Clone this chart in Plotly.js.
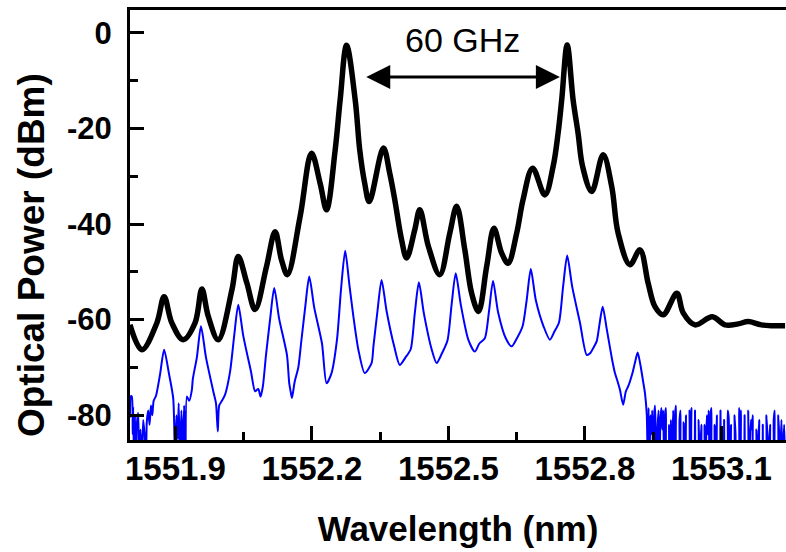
<!DOCTYPE html>
<html>
<head>
<meta charset="utf-8">
<script src="https://cdn.plot.ly/plotly-3.0.1.min.js"></script>
<style>html,body{margin:0;padding:0;background:#fff;}#chart{width:786px;height:552px;}</style>
</head>
<body>
<div id="chart"></div>
<script>
// Black trace: optical spectrum (wavelength nm, power dBm)
const blackWl = [1551.800,1551.826,1551.859,1551.875,1551.892,1551.917,1551.943,1551.958,1551.972,1551.994,
  1552.024,1552.038,1552.057,1552.075,1552.100,1552.119,1552.133,1552.146,1552.174,1552.199,
  1552.218,1552.232,1552.251,1552.262,1552.276,1552.295,1552.305,1552.316,1552.326,1552.357,
  1552.371,1552.382,1552.397,1552.408,1552.426,1552.437,1552.456,1552.481,1552.503,1552.518,
  1552.536,1552.551,1552.566,1552.584,1552.600,1552.617,1552.631,1552.650,1552.664,1552.685,
  1552.712,1552.730,1552.741,1552.749,1552.761,1552.774,1552.785,1552.795,1552.815,1552.840,
  1552.859,1552.873,1552.899,1552.921,1552.939,1552.954,1552.972,1553.002,1553.016,1553.042,
  1553.080,1553.108,1553.137,1553.159,1553.188,1553.240];
const blackDbm = [-61.1,-66.3,-60.7,-55.2,-60.7,-64.2,-60.7,-53.6,-59.3,-64.2,
  -53.8,-46.8,-52.4,-57.9,-48.9,-41.6,-47.5,-50.6,-38.4,-25.2,
  -31.5,-37.0,-24.5,-14.0,-2.6,-14.0,-24.5,-31.5,-35.3,-24.1,
  -29.4,-34.9,-43.3,-47.1,-41.2,-37.0,-44.7,-50.6,-41.9,-36.3,
  -45.4,-54.5,-58.3,-48.9,-40.9,-46.1,-48.2,-41.9,-34.9,-28.3,
  -33.9,-28.0,-21.0,-14.0,-2.5,-14.0,-21.0,-28.0,-33.2,-25.5,
  -32.2,-41.9,-48.5,-45.4,-52.4,-57.3,-59.0,-54.5,-58.6,-61.1,
  -59.4,-61.1,-60.9,-60.4,-61.1,-61.3];

// Blue trace, part 1: noisy floor at short wavelengths
const blueLeftWl = [1551.800,1551.802,1551.804,1551.806,1551.807,1551.809,1551.811,1551.813,1551.815,1551.818,
  1551.820,1551.823,1551.826,1551.829,1551.832,1551.835,1551.837,1551.840,1551.843,1551.846,
  1551.849,1551.852];
const blueLeftDbm = [-80.5,-76.0,-76.1,-84.0,-78.2,-90.0,-80.0,-90.0,-82.0,-79.5,
  -90.0,-83.0,-90.0,-81.0,-84.0,-90.0,-81.3,-79.0,-82.0,-78.0,
  -80.0,-77.0];

// Blue trace, part 2: comb lines
const blueMidWl = [
  1551.857,1551.866,1551.875,1551.886,1551.895,
  1551.899,1551.902,1551.905,1551.907,1551.910,1551.913,1551.916,1551.919,1551.922,1551.925,1551.930,1551.936,
  1551.938,1551.947,1551.956,1551.967,1551.984,
  1551.989,1551.993,1551.996,1552.002,1552.009,
  1552.020,1552.029,1552.038,1552.049,1552.066,
  1552.075,1552.082,1552.087,1552.092,
  1552.099,1552.108,1552.117,1552.128,1552.145,
  1552.150,1552.153,1552.156,1552.162,1552.170,
  1552.176,1552.185,1552.194,1552.205,1552.222,
  1552.232,1552.243,
  1552.255,1552.264,1552.273,1552.282,1552.291,1552.302,
  1552.316,1552.331,
  1552.335,1552.344,1552.353,1552.364,1552.381,
  1552.393,1552.405,
  1552.417,1552.426,1552.435,1552.446,1552.463,
  1552.474,1552.486,
  1552.498,1552.507,1552.516,1552.527,1552.544,
  1552.558,1552.568,
  1552.580,1552.589,1552.598,1552.609,1552.626,
  1552.639,1552.650,
  1552.663,1552.672,1552.681,1552.692,1552.709,
  1552.723,1552.733,
  1552.743,1552.752,1552.761,1552.772,1552.789,
  1552.804,1552.812,1552.818,
  1552.826,1552.832,1552.839,1552.848,1552.860,1552.866,1552.872,1552.877,1552.884,1552.890,1552.895,
  1552.905,1552.910,1552.916,1552.922,1552.928,1552.932,1552.936];
const blueMidDbm = [
  -76.0,-71.5,-66.3,-71.5,-76.5,
  -90.0,-80.0,-85.0,-77.5,-90.0,-79.0,-88.0,-78.0,-90.0,-76.1,-77.0,-74.7,
  -72.5,-67.9,-61.4,-67.9,-75.4,
  -77.5,-83.4,-78.0,-77.0,-75.7,
  -70.9,-63.4,-56.9,-63.4,-70.9,
  -75.0,-74.5,-76.1,-74.0,
  -67.4,-59.9,-53.4,-59.9,-67.4,
  -73.3,-75.0,-76.4,-73.0,-70.0,
  -65.0,-57.5,-51.0,-57.5,-65.0,
  -73.3,-71.2,
  -64.2,-53.5,-45.6,-52.5,-59.3,-66.3,
  -71.2,-69.1,
  -65.7,-58.2,-51.7,-58.2,-65.7,
  -69.5,-68.0,
  -66.2,-58.7,-52.2,-58.7,-66.2,
  -69.1,-67.0,
  -64.3,-56.8,-50.3,-56.8,-64.3,
  -66.7,-65.0,
  -63.9,-58.4,-51.9,-58.4,-63.9,
  -65.6,-64.0,
  -61.4,-55.9,-49.4,-55.9,-61.4,
  -64.2,-62.5,
  -60.6,-53.1,-46.6,-53.1,-60.6,
  -67.4,-67.0,-66.0,
  -64.5,-61.0,-57.3,-62.0,-68.5,-71.2,-73.0,-74.7,-77.8,-75.0,-74.0,
  -71.0,-69.0,-66.9,-69.5,-73.0,-75.4,-80.0];

// Blue trace, part 3: noisy floor at long wavelengths
const blueRightWl = [
  1552.938,1552.940,1552.942,1552.944,1552.946,1552.948,1552.950,1552.952,1552.954,1552.956,
  1552.958,1552.960,1552.962,1552.964,1552.966,1552.968,1552.970,1552.972,1552.974,1552.976,
  1552.978,1552.980,1552.983,1552.985,1552.987,1552.989,1552.991,1552.994,1552.996,1552.998,
  1553.000,1553.002,1553.006,1553.008,1553.010,1553.012,1553.015,1553.017,1553.019,1553.022,
  1553.024,1553.028,1553.030,1553.032,1553.034,1553.036,1553.040,1553.042,1553.044,1553.048,
  1553.050,1553.052,1553.056,1553.058,1553.061,1553.063,1553.065,1553.068,1553.070,1553.072,
  1553.074,1553.076,1553.078,1553.080,1553.083,1553.085,1553.087,1553.090,1553.092,1553.096,
  1553.098,1553.100,1553.104,1553.106,1553.108,1553.112,1553.114,1553.116,1553.118,1553.121,
  1553.123,1553.127,1553.129,1553.131,1553.133,1553.137,1553.139,1553.141,1553.143,1553.145,
  1553.149,1553.151,1553.153,1553.157,1553.159,1553.161,1553.165,1553.167,1553.169,1553.171,
  1553.175,1553.177,1553.179,1553.183,1553.185,1553.189,1553.191,1553.193,1553.197,1553.199,
  1553.201,1553.203,1553.207,1553.209,1553.213,1553.215,1553.217,1553.219,1553.223,1553.225,
  1553.227,1553.229,1553.232,1553.234,1553.238,1553.240];
const blueRightDbm = [
  -90.0,-78.5,-90.0,-80.0,-84.0,-79.0,-90.0,-80.5,-78.0,-85.0,
  -90.0,-82.0,-79.0,-90.0,-81.0,-78.5,-83.0,-79.0,-90.0,-80.0,
  -78.5,-90.0,-90.0,-82.0,-90.0,-81.0,-90.0,-79.0,-90.0,-80.0,
  -78.0,-90.0,-90.0,-81.0,-79.0,-90.0,-90.0,-81.5,-90.0,-80.0,
  -90.0,-90.0,-79.0,-83.0,-78.5,-90.0,-90.0,-79.0,-90.0,-90.0,
  -81.0,-90.0,-82.0,-90.0,-90.0,-82.0,-90.0,-80.0,-84.0,-79.0,
  -90.0,-80.0,-78.5,-90.0,-90.0,-82.0,-90.0,-80.0,-90.0,-90.0,
  -79.0,-90.0,-90.0,-81.0,-90.0,-90.0,-79.0,-80.5,-90.0,-82.0,
  -90.0,-90.0,-80.0,-84.0,-90.0,-90.0,-78.5,-82.0,-79.0,-90.0,
  -90.0,-80.0,-90.0,-90.0,-79.0,-90.0,-81.0,-83.0,-80.0,-90.0,
  -90.0,-83.0,-90.0,-81.0,-90.0,-90.0,-82.0,-90.0,-90.0,-80.0,
  -84.0,-90.0,-82.0,-90.0,-90.0,-81.0,-79.0,-90.0,-90.0,-80.0,
  -84.0,-90.0,-81.0,-90.0,-82.0,-90.0];

// Axis ticks
const xTickVals = [1551.9, 1552.2, 1552.5, 1552.8, 1553.1];
const xTickText = ['1551.9', '1552.2', '1552.5', '1552.8', '1553.1'];
const xMinorVals = [1552.05, 1552.35, 1552.65, 1552.95];
const yTickVals = [0, -20, -40, -60, -80];
const yTickText = ['0', '-20', '-40', '-60', '-80'];
const yMinorVals = [-10, -30, -50, -70];

// Texts
const xTitle = 'Wavelength (nm)';
const yTitle = 'Optical Power (dBm)';

// Annotation: 60 GHz spacing arrow
const arrowStart = [1552.316, -9.2];
const arrowEnd = [1552.745, -9.2];
const labelPos = [1552.53, -1.5];
const labelText = '60 GHz';

const FONT = 'Liberation Sans, Arial, Helvetica, sans-serif';

const blueWl = blueLeftWl.concat(blueMidWl, blueRightWl);
const blueDbm = blueLeftDbm.concat(blueMidDbm, blueRightDbm);

const traces = [
  {x: blueWl, y: blueDbm, type: 'scatter', mode: 'lines',
   line: {color: '#0000ff', width: 2, shape: 'spline', smoothing: 0.7}, hoverinfo: 'skip'},
  {x: blackWl, y: blackDbm, type: 'scatter', mode: 'lines',
   line: {color: '#000000', width: 5.5, shape: 'spline', smoothing: 1.0}, hoverinfo: 'skip'}
];

const layout = {
  width: 786, height: 552,
  margin: {l: 130, r: 0, t: 10, b: 112},
  paper_bgcolor: '#ffffff', plot_bgcolor: '#ffffff',
  showlegend: false,
  font: {family: FONT, color: '#000'},
  xaxis: {
    range: [1551.8, 1553.242],
    tickmode: 'array', tickvals: xTickVals, ticktext: xTickText,
    ticks: 'inside', ticklen: 14, tickwidth: 3, tickcolor: '#000',
    minor: {tickmode: 'array', tickvals: xMinorVals, ticks: 'inside', ticklen: 8, tickwidth: 3, tickcolor: '#000'},
    showline: true, linewidth: 3, linecolor: '#000', mirror: true,
    showgrid: false, zeroline: false,
    tickfont: {family: FONT, size: 33, weight: 'bold', color: '#000'},
    ticklabelstandoff: -3,
    title: {text: xTitle, font: {family: FONT, size: 35, weight: 'bold', color: '#000'}, standoff: 31}
  },
  yaxis: {
    range: [-85.2, 4.8],
    tickmode: 'array', tickvals: yTickVals, ticktext: yTickText,
    ticks: 'inside', ticklen: 14, tickwidth: 3, tickcolor: '#000',
    minor: {tickmode: 'array', tickvals: yMinorVals, ticks: 'inside', ticklen: 8, tickwidth: 3, tickcolor: '#000'},
    showline: true, linewidth: 3, linecolor: '#000', mirror: false,
    showgrid: false, zeroline: false,
    tickfont: {family: FONT, size: 31, weight: 'bold', color: '#000'},
    ticklabelstandoff: 9
  },
  annotations: [
    {xref: 'paper', yref: 'paper', x: -0.151, y: 0.43, text: yTitle, textangle: -90, showarrow: false,
     xanchor: 'center', yanchor: 'middle',
     font: {family: FONT, size: 37, weight: 'bold', color: '#000'}},
    {x: labelPos[0], y: labelPos[1], xref: 'x', yref: 'y', text: labelText, showarrow: false,
     font: {family: FONT, size: 34, color: '#000'}, xanchor: 'center', yanchor: 'middle'},
    {x: arrowEnd[0], y: arrowEnd[1], ax: arrowStart[0], ay: arrowStart[1], xref: 'x', yref: 'y', axref: 'x', ayref: 'y',
     text: '', showarrow: true, arrowhead: 2, arrowside: 'end+start', arrowsize: 1.6, arrowwidth: 3, arrowcolor: '#000', standoff: 0, startstandoff: 0}
  ]
};

Plotly.newPlot('chart', traces, layout, {displayModeBar: false, staticPlot: true});
</script>
</body>
</html>
